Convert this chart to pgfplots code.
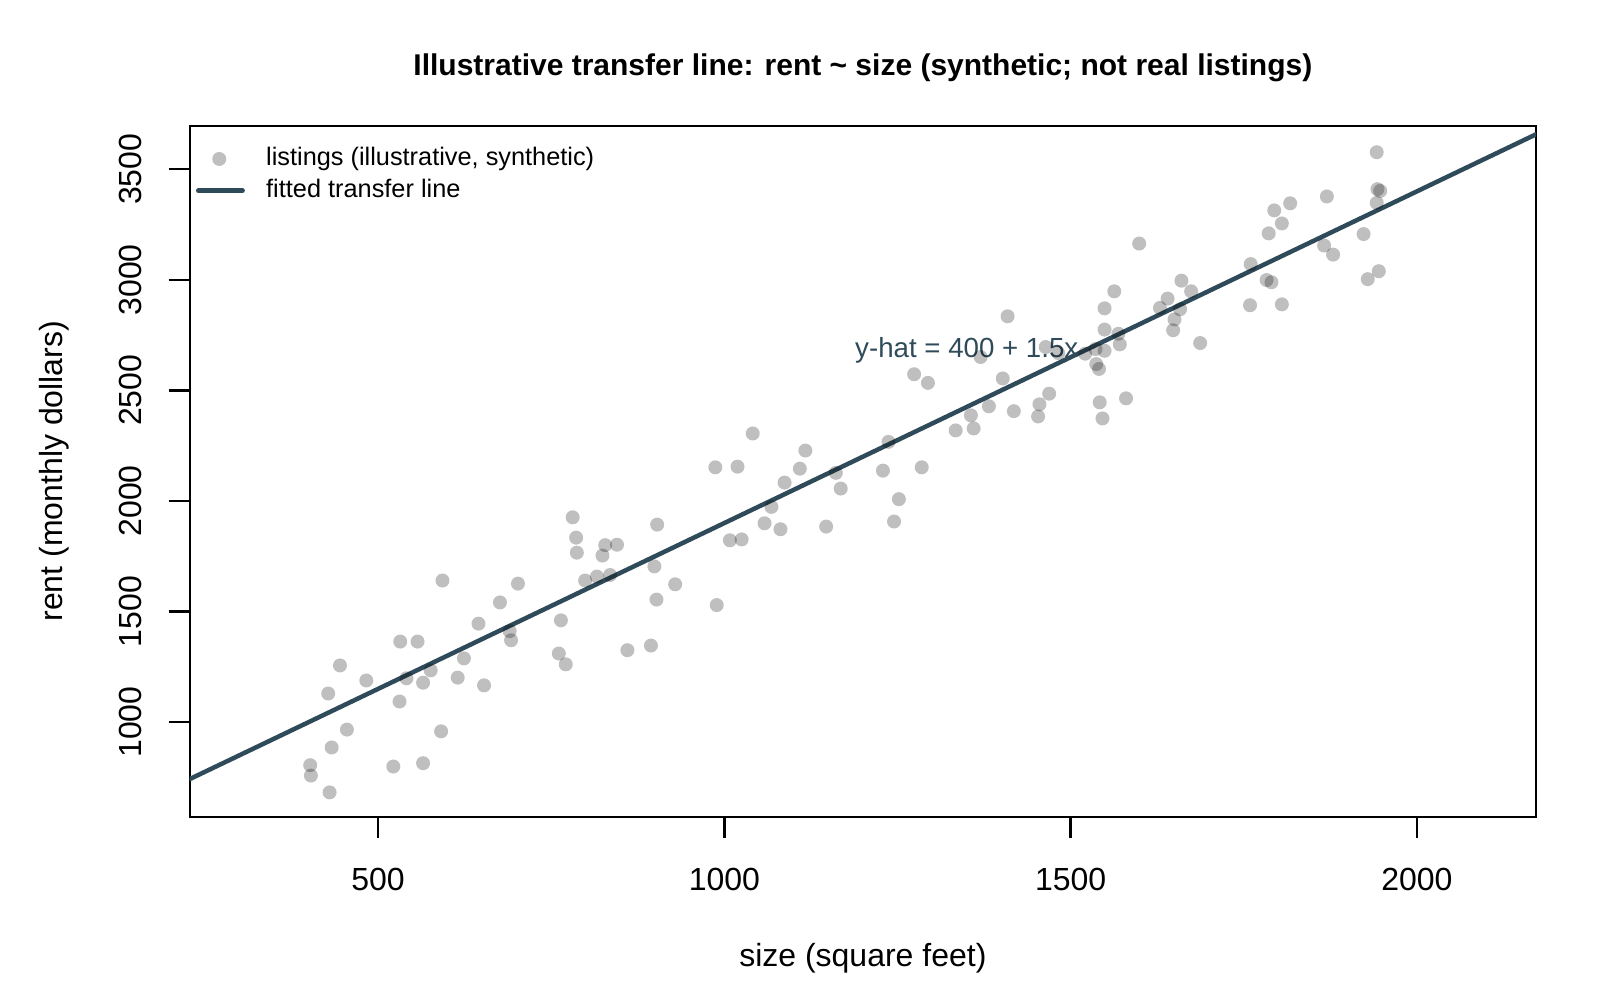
\documentclass[border=0pt]{standalone}
\usepackage{fontspec}
\setmainfont{Liberation Sans}
\usepackage{pgfplots}
\pgfplotsset{compat=1.18}
\definecolor{linec}{RGB}{47,75,90}
\pgfplotsset{
  markleg/.style={legend image code/.code={\draw[mark repeat=2, mark phase=2, ##1] plot coordinates {(0pt,0pt) (7pt,0pt) (14pt,0pt)};}},
  lineleg/.style={legend image code/.code={\draw[##1] (0.7pt,0pt) -- (14pt,0pt);}},
}
\begin{document}
\begin{tikzpicture}
\useasboundingbox (0,0) rectangle (480pt,300pt);
\begin{axis}[
  at={(56.91pt,54.99pt)}, anchor=south west,
  scale only axis, width=403.9pt, height=207.3pt,
  xmin=228, xmax=2172, ymin=572, ymax=3697,
  axis line style={line width=0.7pt, black},
  tick style={line width=0.7pt, black},
  tick align=outside, major tick length=6.3pt,
  xtick pos=left, ytick pos=left,
  xtick={500,1000,1500,2000}, xticklabels={500,1000,1500,2000},
  ytick={1000,1500,2000,2500,3000,3500}, yticklabels={1000,1500,2000,2500,3000,3500},
  ticklabel style={font=\fontsize{9.6}{11}\selectfont},
  xticklabel style={anchor=base, yshift=-15.7pt},
  yticklabel style={xshift=-8.3pt, rotate=90, anchor=base},
  title={Illustrative transfer line: rent \textasciitilde{} size (synthetic; not real listings)},
  every axis title/.style={at={(axis description cs:0.5,1)}, anchor=base, yshift=15.2pt, font=\bfseries\fontsize{9}{11}\selectfont},
  xlabel={size (square feet)},
  ylabel={rent (monthly dollars)},
  every axis x label/.style={at={(axis description cs:0.5,0)}, anchor=base, yshift=-45pt, font=\fontsize{9.6}{11}\selectfont},
  every axis y label/.style={at={(axis description cs:0,0.5)}, xshift=-38.1pt, rotate=90, anchor=base, font=\fontsize{9.6}{11}\selectfont},
  legend cell align=left,
  legend style={at={(axis description cs:0.0047,0.969)}, anchor=north west, draw=none, fill=none, inner sep=0pt, outer sep=0pt,
    font=\fontsize{7.6}{9}\selectfont, row sep=2.4pt,
    nodes={inner sep=0pt, text height=5.5pt, text depth=1.6pt},
    /tikz/every odd column/.append style={column sep=6.4pt}},
]
\addplot[only marks, mark=*, mark size=2.1pt, mark options={fill=black, fill opacity=0.25, draw opacity=0}, markleg]
coordinates {
(786,1834) (787,1766) (828,1800) (845,1802) (824,1753) (799,1640) (816,1658) (835,1665)
(899,1704) (902,1554) (593,1640) (702,1626) (676,1541) (645,1445) (690,1411) (692,1370)
(764,1460) (761,1310) (771,1261) (860,1325) (894,1346) (532,1364) (557,1364) (445,1256)
(483,1188) (428,1129) (541,1198) (576,1234) (565,1178) (624,1288) (615,1201) (653,1166)
(531,1093) (455,966) (591,958) (433,885) (402,805) (403,758) (430,682) (522,799)
(565,814) (781,1926) (903,1893) (929,1623) (987,2152) (1019,2155) (1041,2305) (1117,2228)
(1109,2146) (1087,2083) (1068,1973) (1058,1899) (1081,1872) (1008,1822) (1025,1826) (989,1529)
(1161,2127) (1168,2056) (1147,1884) (1237,2267) (1229,2137) (1285,2152) (1252,2008) (1245,1907)
(1334,2319) (1356,2387) (1360,2328) (1382,2428) (1599,3164) (1660,2996) (1674,2948) (1640,2915)
(1629,2873) (1658,2867) (1650,2821) (1648,2772) (1687,2714) (1563,2948) (1549,2871) (1549,2775)
(1569,2756) (1571,2708) (1549,2679) (1536,2687) (1521,2666) (1537,2619) (1541,2597) (1409,2835)
(1464,2696) (1482,2669) (1370,2651) (1402,2554) (1418,2406) (1453,2382) (1455,2437) (1469,2485)
(1542,2446) (1546,2373) (1580,2464) (1274,2573) (1294,2534) (1942,3577) (1943,3410) (1947,3402)
(1942,3348) (1870,3377) (1817,3346) (1794,3314) (1805,3255) (1786,3210) (1923,3207) (1866,3155)
(1879,3114) (1760,3071) (1783,2999) (1790,2989) (1929,3003) (1945,3039) (1759,2885) (1805,2889)
};
\addlegendentry{listings (illustrative, synthetic)}
\addplot[linec, line width=1.35pt, line cap=round, lineleg]
coordinates {(228,742) (2172,3658)};
\addlegendentry{fitted transfer line}
\node[anchor=base, text=linec, font=\fontsize{8.3}{10}\selectfont, inner sep=0pt] at (axis cs:1350,2648) {y-hat = 400 + 1.5x};
\end{axis}
\end{tikzpicture}
\end{document}
